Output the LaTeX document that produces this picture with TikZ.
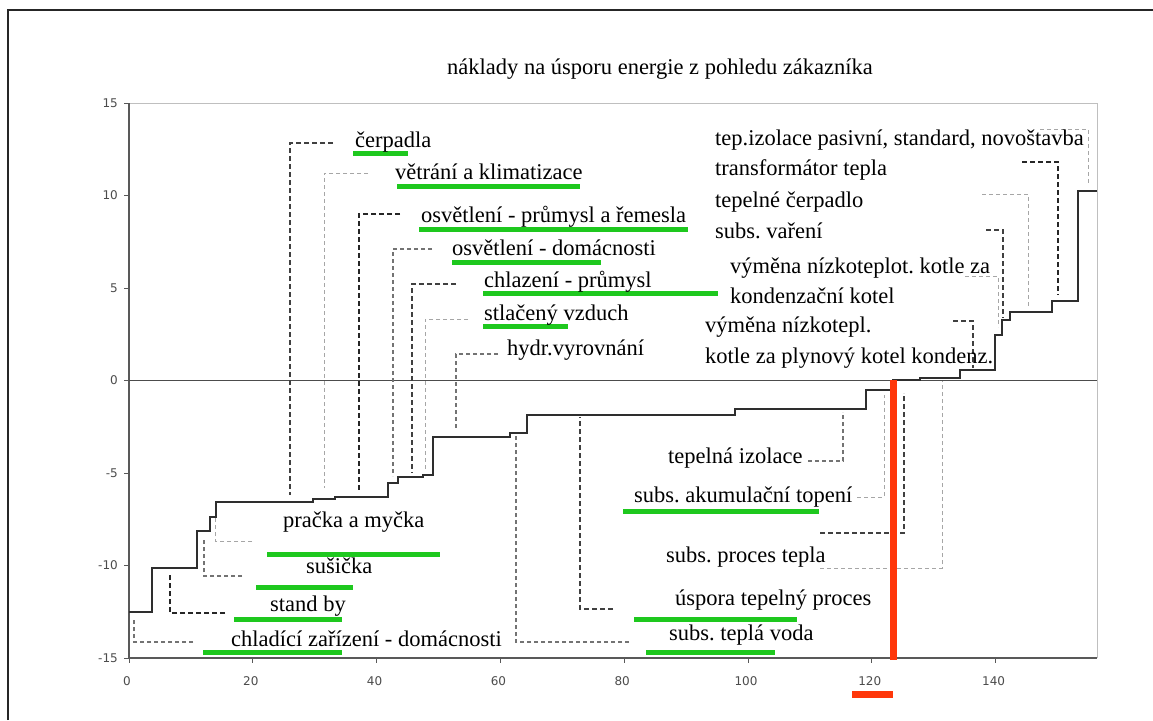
\documentclass[tikz,border=0pt]{standalone}
\usepackage{fontspec}
\setmainfont{Liberation Serif}
\newfontfamily\tickfont{DejaVu Sans}
\definecolor{ugreen}{RGB}{30,200,30}
\definecolor{ured}{RGB}{255,55,10}
\frenchspacing
\begin{document}
\begin{tikzpicture}[x=1pt,y=-1pt,
  lbl/.style={anchor=base west, inner sep=0pt, font=\fontsize{22.5}{27}\selectfont},
  ttl/.style={anchor=base, inner sep=0pt, font=\fontsize{22.5}{27}\selectfont},
  tick/.style={inner sep=0pt, font=\tickfont\fontsize{12}{14}\selectfont, text=black!70},
  stair/.style={line width=2.4pt, black!82},
  gl/.style={line width=5pt, ugreen},
  lthick/.style={line width=2pt, black!85, dash pattern=on 5pt off 3pt},
  ldark/.style={line width=1.4pt, black!75, dash pattern=on 5pt off 3pt},
  lmid/.style={line width=1.1pt, black!55, dash pattern=on 4pt off 3pt},
  llight/.style={line width=1pt, black!35, dash pattern=on 4pt off 3pt}]
\useasboundingbox (0,0) rectangle (1153,720);
\fill[white] (0,0) rectangle (1153,720);
% outer frame
\draw[black!85, line width=2pt] (8,720) -- (8,10) -- (1153,10);
% title
\node[ttl] (title) at (660,74) {náklady na úsporu energie z pohledu zákazníka};
% plot frame
\draw[black!25, line width=1pt] (129,103) -- (1097,103) -- (1097,658);
\draw[black!65, line width=1.5pt] (129,103) -- (129,658) -- (1097,658);
\draw[black!70, line width=1.5pt] (129,380.5) -- (1097,380.5);
% y ticks
\foreach \v/\t in {15/15,10/10,5/5,0/0,-5/-5,-10/-10,-15/-15}{
  \draw[black!65, line width=1pt] (124,380.5-\v*18.5) -- (129,380.5-\v*18.5);
  \node[tick, anchor=east] (yt\t) at (118,380.5-\v*18.5) {\t};
}
% x ticks
\foreach \u in {0,20,40,60,80,100,120,140}{
  \draw[black!65, line width=1pt] (129+\u*6.19,658) -- (129+\u*6.19,663);
  \node[tick, anchor=center] (xt\u) at (127+\u*6.19,681) {\u};
}
% leaders
\draw[ldark]  (333,143) -| (290,495);
\draw[llight] (368,173) -| (324,488);
\draw[lthick] (400,214) -| (359,492);
\draw[lmid]   (432,249) -| (393,476);
\draw[ldark]  (456,284) -| (412,473);
\draw[llight] (468,319) -| (425,470);
\draw[lmid]   (498,354) -| (456,430);
\draw[llight] (1040,129) -| (1088,185);
\draw[lthick] (1022,162) -| (1058,295);
\draw[llight] (982,194) -| (1028,308);
\draw[ldark]  (986,230) -| (1003,318);
\draw[llight] (965,276) -| (998,327);
\draw[ldark]  (953,321) -| (973,368);
\draw[lmid]   (808,461) -| (843,412);
\draw[llight] (857,497) -| (884,395);
\draw[ldark]  (820,533) -| (904,393);
\draw[llight] (820,568) -| (942,381);
\draw[ldark]  (613,609) -| (580,417);
\draw[lmid]   (629,642) -| (516,435);
\draw[llight] (252,541) -| (215,518);
\draw[lmid]   (242,576) -| (204,540);
\draw[lthick] (225,613) -| (170,575);
\draw[lmid]   (193,642) -| (134,620);
% stair line
\draw[stair] (129,612) -- (152,612) -- (152,568) -- (197,568) -- (197,531) -- (210,531) -- (210,517) -- (216,517) -- (216,502) -- (313,502) -- (313,499) -- (335,499) -- (335,497) -- (388,497) -- (388,483) -- (398,483) -- (398,477) -- (423,477) -- (423,475) -- (433,475) -- (433,437) -- (510,437) -- (510,433) -- (527,433) -- (527,415) -- (735,415) -- (735,409) -- (866,409) -- (866,390) -- (893,390) -- (893,380) -- (920,380) -- (920,378) -- (960,378) -- (960,370) -- (995,370) -- (995,335) -- (1002,335) -- (1002,320) -- (1010,320) -- (1010,312) -- (1052,312) -- (1052,301) -- (1078,301) -- (1078,191) -- (1097,191);
% green underlines
\draw[gl] (353,153) -- (408,153);
\draw[gl] (397,186) -- (580,186);
\draw[gl] (419,229) -- (688,229);
\draw[gl] (452,262) -- (601,262);
\draw[gl] (483,293) -- (718,293);
\draw[gl] (483,326) -- (568,326);
\draw[gl] (623,511) -- (819,511);
\draw[gl] (634,619) -- (797,619);
\draw[gl] (646,652) -- (775,652);
\draw[gl] (267,554) -- (440,554);
\draw[gl] (256,587) -- (353,587);
\draw[gl] (234,619) -- (342,619);
\draw[gl] (203,652) -- (342,652);
% red marks
\draw[ured, line width=7pt] (893,380) -- (893,660);
\draw[ured, line width=7pt] (852,694) -- (893,694);
% labels
\node[lbl] (l1) at (355,147) {čerpadla};
\node[lbl] (l2) at (395,179) {větrání a klimatizace};
\node[lbl] (l3) at (421,222) {osvětlení - průmysl a řemesla};
\node[lbl] (l4) at (452,255) {osvětlení - domácnosti};
\node[lbl] (l5) at (484,287) {chlazení - průmysl};
\node[lbl] (l6) at (484,320) {stlačený vzduch};
\node[lbl] (l7) at (507,355) {hydr.vyrovnání};
\node[lbl] (r1) at (715,145) {tep.izolace pasivní, standard, novoštavba};
\node[lbl] (r2) at (715,175) {transformátor tepla};
\node[lbl] (r3) at (715,207) {tepelné čerpadlo};
\node[lbl] (r4) at (715,238) {subs. vaření};
\node[lbl] (r5) at (730,273) {výměna nízkoteplot. kotle za};
\node[lbl] (r6) at (730,303) {kondenzační kotel};
\node[lbl] (r7) at (705,332) {výměna nízkotepl.};
\node[lbl] (r8) at (705,363) {kotle za plynový kotel kondenz.};
\node[lbl] (b1) at (668,463) {tepelná izolace};
\node[lbl] (b2) at (634,502) {subs. akumulační topení};
\node[lbl] (b3) at (666,562) {subs. proces tepla};
\node[lbl] (b4) at (675,605) {úspora tepelný proces};
\node[lbl] (b5) at (669,640) {subs. teplá voda};
\node[lbl] (s1) at (283,527) {pračka a myčka};
\node[lbl] (s2) at (306,573) {sušička};
\node[lbl] (s3) at (270,611) {stand by};
\node[lbl] (s4) at (231,646) {chladící zařízení - domácnosti};
\end{tikzpicture}
\end{document}
